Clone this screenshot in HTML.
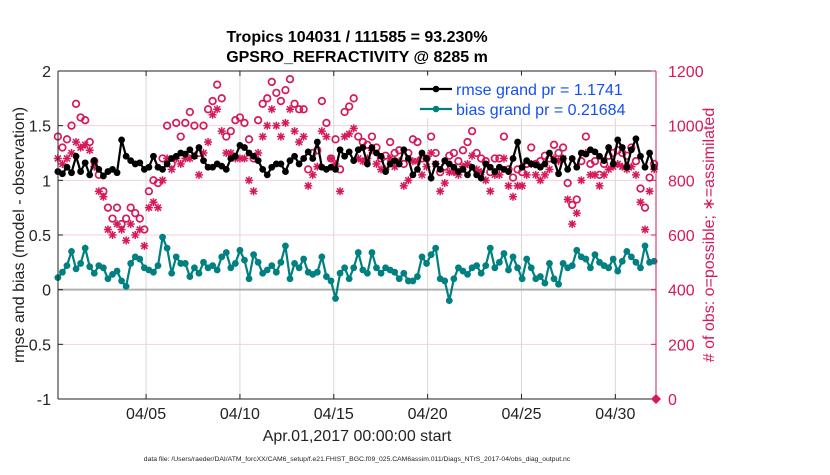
<!DOCTYPE html>
<html><head><meta charset="utf-8">
<style>
body{margin:0;background:#fff;width:830px;height:470px;overflow:hidden;font-family:"Liberation Sans",Arial,sans-serif;}
svg text{font-family:"Liberation Sans",Arial,sans-serif;}
</style></head>
<body>
<svg id="chart" width="830" height="470" viewBox="0 0 830 470" xmlns="http://www.w3.org/2000/svg"></svg>
<script>
const dateTickLabels = ["04/05","04/10","04/15","04/20","04/25","04/30"];
const dateTickDays = [4,9,14,19,24,29];
const leftTicks = [-1,-0.5,0,0.5,1,1.5,2];
const leftTickLabels = ["-1","-0.5","0","0.5","1","1.5","2"];
const rightTicks = [0,200,400,600,800,1000,1200];
const startDay = -0.7;
const stepDays = 0.2425;
const rmse = [1.08,1.06,1.12,1.07,1.22,1.08,1.16,1.05,1.18,1.10,1.04,1.08,1.10,1.07,1.37,1.22,1.18,1.15,1.16,1.10,1.12,1.22,1.12,1.10,1.15,1.20,1.22,1.25,1.24,1.28,1.22,1.30,1.18,1.12,
1.12,1.15,1.13,1.10,1.20,1.22,1.32,1.30,1.25,1.22,1.18,1.10,1.05,1.12,1.15,1.15,1.08,1.18,1.22,1.15,1.20,1.26,1.20,1.35,1.12,1.10,1.12,1.10,1.28,1.22,1.26,1.18,1.28,1.30,
1.15,1.30,1.25,1.22,1.08,1.15,1.18,1.15,1.28,1.20,1.05,1.10,1.25,1.20,1.02,1.15,1.10,1.18,1.15,1.12,1.08,1.10,1.05,1.12,1.05,1.02,1.15,1.12,1.08,1.12,1.10,1.08,1.20,1.35,
1.12,1.18,1.15,1.14,1.12,1.15,1.25,1.18,1.06,1.20,1.10,1.20,1.12,1.25,1.24,1.28,1.26,1.22,1.18,1.30,1.15,1.37,1.30,1.12,1.28,1.38,1.22,1.12,1.25,1.12];
const bias = [0.11,0.16,0.22,0.35,0.19,0.24,0.38,0.21,0.15,0.22,0.20,0.10,0.14,0.17,0.08,0.03,0.24,0.30,0.28,0.20,0.18,0.16,0.22,0.48,0.38,0.15,0.30,0.24,0.24,0.12,0.20,0.15,0.25,0.20,
0.22,0.18,0.30,0.34,0.20,0.24,0.36,0.27,0.10,0.32,0.25,0.15,0.18,0.22,0.16,0.25,0.40,0.10,0.24,0.20,0.28,0.16,0.14,0.16,0.30,0.12,0.08,-0.08,0.15,0.20,0.10,0.20,0.34,0.18,
0.15,0.34,0.20,0.15,0.20,0.18,0.16,0.10,0.15,0.08,0.08,0.12,0.30,0.24,0.32,0.38,0.10,0.08,-0.10,0.10,0.20,0.17,0.14,0.20,0.22,0.15,0.22,0.38,0.20,0.25,0.33,0.18,0.30,0.20,
0.10,0.28,0.20,0.10,0.12,0.06,0.24,0.10,0.05,0.24,0.20,0.22,0.36,0.30,0.28,0.20,0.32,0.25,0.22,0.20,0.28,0.17,0.26,0.35,0.30,0.25,0.20,0.40,0.25,0.26];
const possible = [960,920,950,1000,1080,1030,1020,940,870,820,760,700,660,700,640,660,700,680,660,620,760,800,790,880,1000,860,1010,960,1010,1050,1000,900,1000,1060,
1090,1150,1100,960,980,1020,1030,1010,950,880,1020,1080,1100,1160,1120,1090,1130,1170,1080,1060,1060,840,900,910,1090,1010,880,950,840,1050,1070,1100,960,940,
930,960,920,880,890,940,900,910,860,900,950,940,880,880,960,900,830,850,890,900,870,910,940,980,900,880,870,830,880,880,960,840,810,840,
830,860,920,860,870,890,880,930,900,920,790,710,730,870,960,860,870,820,860,890,900,910,900,890,920,870,770,700,810,860];
const assimilated = [880,860,880,900,940,920,930,910,850,760,740,620,600,640,620,580,640,600,620,560,700,720,700,800,880,840,880,860,880,880,890,820,900,940,
1040,1060,980,900,900,880,880,880,800,760,900,960,1000,1060,1000,960,1010,1060,980,940,960,780,820,850,980,960,880,860,760,960,970,990,880,870,
880,910,860,840,840,880,850,870,780,800,870,870,820,850,900,860,760,790,830,830,820,850,860,890,840,830,800,760,820,820,880,780,740,780,
780,820,860,820,800,820,840,880,870,880,730,640,680,800,900,820,820,780,820,840,850,860,850,840,850,820,720,620,760,840];

const NS="http://www.w3.org/2000/svg";
const svg=document.getElementById('chart');
const L=58,R=656,T=71,B=399;
const xDay=d=>71+d*18.77;
const yL=v=>B-(v+1)/3*(B-T);
const yR=c=>B-c/1200*(B-T);
function mk(tag,attrs,parent){const e=document.createElementNS(NS,tag);for(const k in attrs)e.setAttribute(k,attrs[k]);(parent||svg).appendChild(e);return e;}
const red="#d6195a", teal="#008080";

const grid=mk('g',{});


dateTickDays.forEach(d=>{const l=mk('line',{x1:xDay(d),x2:xDay(d),y1:T,y2:B,stroke:'#d8d8d8','stroke-width':1},grid);

});
rightTicks.forEach(c=>{if(c>0&&c<1200&&c!==400){const l=mk('line',{x1:L,x2:R,y1:yR(c),y2:yR(c),stroke:'#f5cfdc','stroke-width':1},grid);

}});
const zl=mk('line',{x1:L,x2:R,y1:yL(0),y2:yL(0),stroke:'#b0b0b0','stroke-width':2},grid);



const times=rmse.map((_,i)=>startDay+i*stepDays);
const asG=mk('g',{fill:red,stroke:red,'stroke-width':1.5});


assimilated.forEach((c,i)=>{const x=xDay(times[i]),y=yR(c);
const g=mk('g',{},asG);


mk('line',{x1:x-4,x2:x+4,y1:y,y2:y},g);mk('line',{x1:x,x2:x,y1:y-4,y2:y+4},g);
mk('line',{x1:x-3,x2:x+3,y1:y-3,y2:y+3},g);mk('line',{x1:x-3,x2:x+3,y1:y+3,y2:y-3},g);});
const poG=mk('g',{fill:'none',stroke:red,'stroke-width':1.7});


possible.forEach((c,i)=>{const p=mk('circle',{cx:xDay(times[i]),cy:yR(c),r:3.3},poG);

});

function series(vals,color,name){
const g=mk('g',{});


const pts=vals.map((v,i)=>xDay(times[i]).toFixed(1)+','+yL(v).toFixed(1)).join(' ');
mk('polyline',{points:pts,fill:'none',stroke:color,'stroke-width':2.2},g);
vals.forEach((v,i)=>{const c=mk('circle',{cx:xDay(times[i]),cy:yL(v),r:3.4,fill:color},g);

});}
series(rmse,'#000','rmse-series');
series(bias,teal,'bias-series');

const ax=mk('g',{});


mk('line',{x1:L,x2:R,y1:T,y2:T,stroke:'#222'},ax);
mk('line',{x1:L,x2:R,y1:B,y2:B,stroke:'#222'},ax);
mk('line',{x1:L,x2:L,y1:T,y2:B,stroke:'#222'},ax);
mk('line',{x1:R,x2:R,y1:T,y2:B,stroke:red},ax);
leftTicks.forEach((v,i)=>{const y=yL(v);mk('line',{x1:L,x2:L+5,y1:y,y2:y,stroke:'#222'},ax);
const t=mk('text',{x:L-7,y:y+6,'text-anchor':'end','font-size':16,fill:'#222'},ax);t.textContent=leftTickLabels[i];

});
rightTicks.forEach(c=>{const y=yR(c);mk('line',{x1:R-5,x2:R,y1:y,y2:y,stroke:red},ax);
const t=mk('text',{x:R+12,y:y+6,'font-size':16,fill:red},ax);t.textContent=c;

});
dateTickDays.forEach((d,i)=>{const x=xDay(d);mk('line',{x1:x,x2:x,y1:B-5,y2:B,stroke:'#222'},ax);mk('line',{x1:x,x2:x,y1:T,y2:T+5,stroke:'#222'},ax);
const t=mk('text',{x:x,y:B+20,'text-anchor':'middle','font-size':16,fill:'#222'},ax);t.textContent=dateTickLabels[i];

});
const dm=mk('path',{d:`M${R-5},${B} L${R},${B-5} L${R+5},${B} L${R},${B+5}Z`,fill:red},ax);



function txt(s,attrs,name){const t=mk('text',attrs);t.textContent=s;

return t;}
txt('Tropics 104031 / 111585 = 93.230%',{x:357,y:42,'text-anchor':'middle','font-size':16,'font-weight':'bold',fill:'#000'},'chart-title');
txt('GPSRO_REFRACTIVITY @ 8285 m',{x:357,y:62,'text-anchor':'middle','font-size':16,'font-weight':'bold',fill:'#000'},'chart-subtitle');
txt('Apr.01,2017 00:00:00 start',{x:357,y:441,'text-anchor':'middle','font-size':16,fill:'#222'},'x-axis-title');
txt('rmse and bias (model - observation)',{x:0,y:0,'text-anchor':'middle','font-size':16,fill:'#222',transform:'translate(24,235) rotate(-90)'},'left-axis-title');
txt('# of obs: o=possible; \u2217=assimilated',{x:0,y:0,'text-anchor':'middle','font-size':16,fill:red,transform:'translate(714,235) rotate(-90)'},'right-axis-title');
txt('data file: /Users/raeder/DAI/ATM_forcXX/CAM6_setup/f.e21.FHIST_BGC.f09_025.CAM6assim.011/Diags_NTrS_2017-04/obs_diag_output.nc',{x:357,y:461,'text-anchor':'middle','font-size':6.8,fill:'#222'},'data-file-note');

const lg=mk('g',{});


mk('rect',{x:413,y:76,width:238,height:42,fill:'#fff',stroke:'#fff'},lg);
mk('line',{x1:420,x2:452,y1:89,y2:89,stroke:'#000','stroke-width':2.2},lg);
mk('circle',{cx:436,cy:89,r:3.3,fill:'#000'},lg);
mk('line',{x1:420,x2:452,y1:109,y2:109,stroke:teal,'stroke-width':2.2},lg);
mk('circle',{cx:436,cy:109,r:3.3,fill:teal},lg);
const l1=mk('text',{x:456,y:95,'font-size':16,fill:'#1450f0'},lg);l1.textContent='rmse grand pr = 1.1741';


const l2=mk('text',{x:456,y:115,'font-size':16,fill:'#1450f0'},lg);l2.textContent='bias grand pr = 0.21684';


</script>
</body></html>
